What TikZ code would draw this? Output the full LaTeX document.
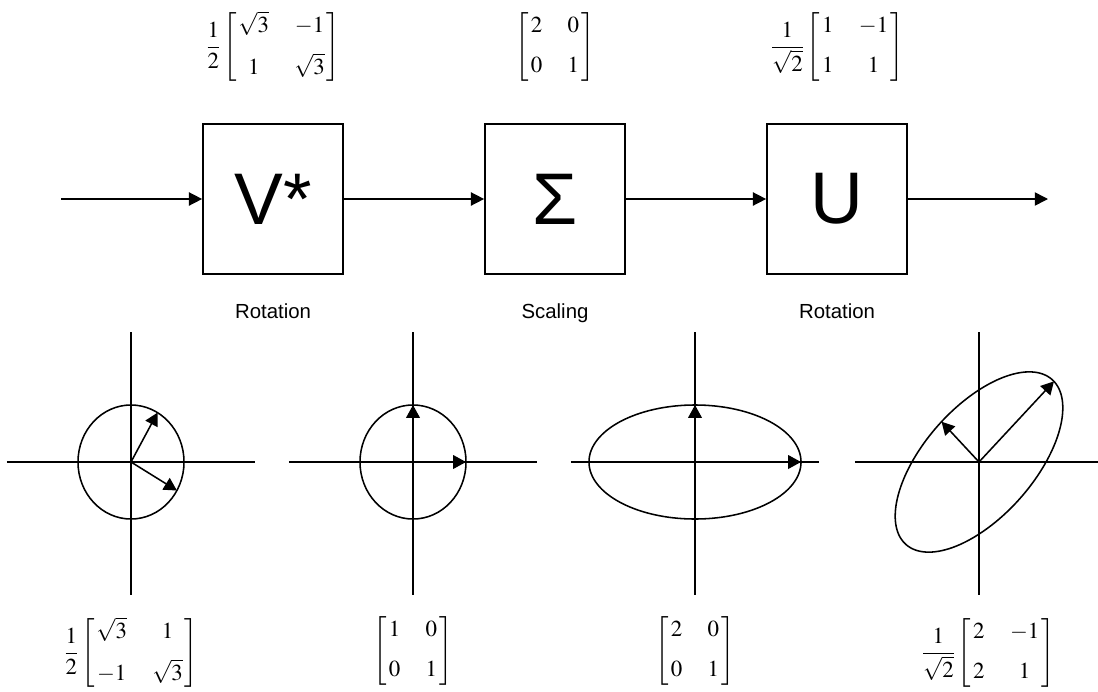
\documentclass[tikz,border=0pt]{standalone}
\usepackage{amsmath}
\usepackage{mathptmx}
\usepackage[no-math]{fontspec}
\setsansfont{Liberation Sans}
\usepackage{tikz}
\usetikzlibrary{positioning, arrows.meta}
\setlength{\arraycolsep}{9pt}
\newcommand{\halfc}{\dfrac{1}{2}}
\newcommand{\rtwoc}{\dfrac{1}{\sqrt{2}}}
\newcommand{\sqmat}[1]{\left[\mkern1.5mu\begin{matrix}#1\end{matrix}\mkern1.5mu\right]}

\begin{document}
\begin{tikzpicture}[
    x=0.025cm, y=-0.025cm,
    every node/.style={inner sep=0pt},
    blk/.style={draw, line width=1.2pt, minimum width=3.5cm, minimum height=3.75cm,
                font=\sffamily\fontsize{52}{60}\selectfont},
    lbl/.style={font=\sffamily\fontsize{14.5}{17}\selectfont,
                text height=0.75em, text depth=0.2em},
    mat/.style={font=\fontsize{16.3}{19.6}\selectfont},
    flow/.style={-{Triangle[length=0.33cm, width=0.33cm]}, line width=1.1pt},
    axis/.style={line width=1pt},
    vec/.style={-{Triangle[length=0.32cm, width=0.34cm]}, line width=1.1pt},
    curve/.style={line width=1.1pt},
  ]
    \useasboundingbox (0,0) rectangle (1098,691);

    % blocks
    \node[blk] (vstar) at (273,199) {V*};
    \node[blk] (sigma) at (555,199) {Σ};
    \node[blk] (u)     at (837,199) {U};
    \coordinate (in)  at (61,199);
    \coordinate (out) at (1048,199);

    \draw[flow] (in) -- (vstar);
    \draw[flow] (vstar) -- (sigma);
    \draw[flow] (sigma) -- (u);
    \draw[flow] (u) -- (out);

    \node[lbl] (rot1) at (273,315) {Rotation};
    \node[lbl] (scal) at (555,315) {Scaling};
    \node[lbl] (rot2) at (837,315) {Rotation};

    % matrices above
    \node[mat] (mv) at (273,47)
      {$\halfc\sqmat{\sqrt{3} & -1\\[9pt] 1 & \sqrt{3}}$};
    \node[mat] (ms) at (555,47)
      {$\sqmat{2 & 0\\[9pt] 0 & 1}$};
    \node[mat] (mu) at (837,47)
      {$\rtwoc\sqmat{1 & -1\\[9pt] 1 & 1}$};

    % unit circle, rotated
    \begin{scope}[shift={(131,462)}, x=1.325cm, y=1.425cm]
      \coordinate (o1) at (0,0);
      \draw[axis] (-2.34,0) -- (2.34,0);
      \draw[axis] (0,2.28) -- (0,-2.33);
      \draw[curve] (o1) ellipse (1 and 1);
      \draw[vec] (o1) -- (0.866,-0.5);
      \draw[vec] (o1) -- (0.5,0.866);
    \end{scope}

    \begin{scope}[shift={(413,462)}, x=1.325cm, y=1.425cm]
      \coordinate (o2) at (0,0);
      \draw[axis] (-2.34,0) -- (2.34,0);
      \draw[axis] (0,2.28) -- (0,-2.33);
      \draw[curve] (o2) ellipse (1 and 1);
      \draw[vec] (o2) -- (1,0);
      \draw[vec] (o2) -- (0,1);
    \end{scope}

    \begin{scope}[shift={(695,462)}, x=1.325cm, y=1.425cm]
      \coordinate (o3) at (0,0);
      \draw[axis] (-2.34,0) -- (2.34,0);
      \draw[axis] (0,2.28) -- (0,-2.33);
      \draw[curve] (o3) ellipse (2 and 1);
      \draw[vec] (o3) -- (2,0);
      \draw[vec] (o3) -- (0,1);
    \end{scope}

    \begin{scope}[shift={(979,462)}, x=1.325cm, y=1.425cm]
      \coordinate (o4) at (0,0);
      \draw[axis] (-2.34,0) -- (2.245,0);
      \draw[axis] (0,2.28) -- (0,-2.33);
      \draw[curve] plot[smooth cycle, domain=0:355, samples=72]
        ({(2*cos(\x)-sin(\x))/sqrt(2)}, {(2*cos(\x)+sin(\x))/sqrt(2)});
      \draw[vec] (o4) -- (1.414,1.414);
      \draw[vec] (o4) -- (-0.707,0.707);
    \end{scope}

    % matrices below
    \node[mat] (m1) at (131,653)
      {$\halfc\sqmat{\sqrt{3} & 1\\[9pt] -1 & \sqrt{3}}$};
    \node[mat] (m2) at (413,651)
      {$\sqmat{1 & 0\\[9pt] 0 & 1}$};
    \node[mat] (m3) at (695,651)
      {$\sqmat{2 & 0\\[9pt] 0 & 1}$};
    \node[mat] (m4) at (988,653)
      {$\rtwoc\sqmat{2 & -1\\[9pt] 2 & 1}$};
\end{tikzpicture}
\end{document}
